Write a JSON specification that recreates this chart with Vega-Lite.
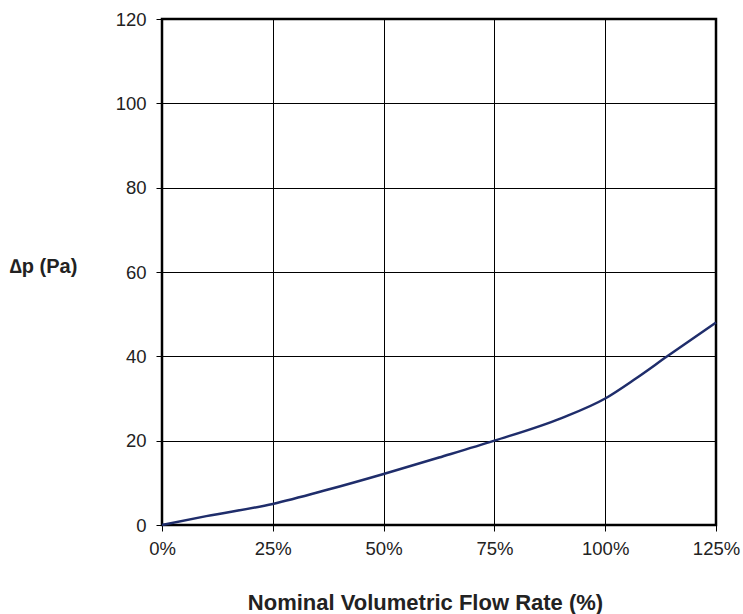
{
  "$schema": "https://vega.github.io/schema/vega-lite/v6.json",
  "autosize": "none",
  "padding": {"left": 162, "top": 19, "right": 27, "bottom": 89},
  "width": 554,
  "height": 506,
  "background": "white",
  "data": {
    "values": [
      {"flow": 0, "dp": 0},
      {"flow": 10, "dp": 2.1},
      {"flow": 25, "dp": 5},
      {"flow": 37.5, "dp": 8.4},
      {"flow": 50, "dp": 12.1},
      {"flow": 62.5, "dp": 16},
      {"flow": 75, "dp": 20},
      {"flow": 90, "dp": 25.3},
      {"flow": 100, "dp": 30},
      {"flow": 107, "dp": 34.8},
      {"flow": 114, "dp": 40},
      {"flow": 125, "dp": 48}
    ]
  },
  "mark": {"type": "line", "interpolate": "monotone", "color": "#1f2d6b", "strokeWidth": 2.5},
  "encoding": {
    "x": {
      "field": "flow",
      "type": "quantitative",
      "scale": {"domain": [0, 125], "nice": false, "zero": true},
      "axis": {
        "values": [0, 25, 50, 75, 100, 125],
        "labelExpr": "datum.value + '%'",
        "labelFlush": false,
        "title": "Nominal Volumetric Flow Rate (%)",
        "titleX": 263,
        "titleY": 77,
        "titleFontSize": 22,
        "titleBaseline": "middle"
      }
    },
    "y": {
      "field": "dp",
      "type": "quantitative",
      "scale": {"domain": [0, 120], "nice": false},
      "axis": {
        "values": [0, 20, 40, 60, 80, 100, 120],
        "labelFlush": false,
        "title": "∆p (Pa)",
        "titleAngle": 0,
        "titleX": -119,
        "titleY": 247,
        "titleFontSize": 20,
        "titleAlign": "center",
        "titleBaseline": "middle",
        "labelPadding": 10
      }
    }
  },
  "config": {
    "font": "Liberation Sans",
    "view": {"stroke": "black", "strokeWidth": 2.5},
    "axis": {
      "grid": true,
      "gridColor": "black",
      "gridOpacity": 1,
      "gridWidth": 1,
      "domain": false,
      "tickColor": "black",
      "tickSize": 6,
      "tickWidth": 1,
      "labelFont": "Liberation Sans",
      "labelFontSize": 18.5,
      "labelColor": "#222222",
      "titleFont": "Liberation Sans",
      "titleFontWeight": "bold",
      "titleColor": "#222222"
    },
    "axisX": {"labelPadding": 8}
  }
}
